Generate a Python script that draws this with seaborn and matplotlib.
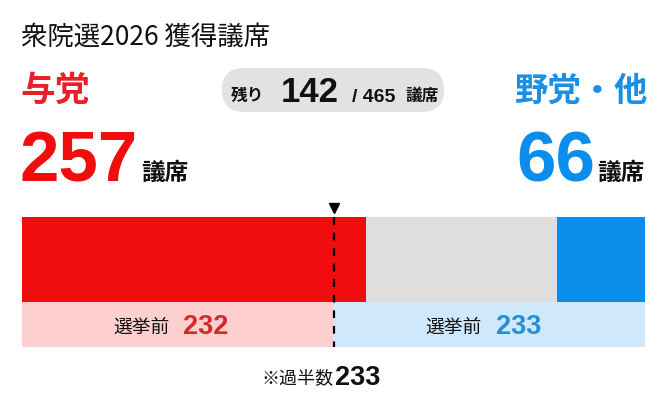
import numpy as np
import matplotlib
matplotlib.use("Agg")
import matplotlib.pyplot as plt
from matplotlib import font_manager as fm
from matplotlib.patches import FancyBboxPatch
import seaborn as sns

# ---- data ----
title = "衆院選2026 獲得議席"
parties = ["与党", "残り", "野党・他"]
seats = [257, 142, 66]
total_seats = 465
prev_label = "選挙前"
prev_seats = [232, 233]
majority = 233
unit = "議席"

sns.set_theme(style="white")

def has(f):
    try:
        fm.findfont(fm.FontProperties(family=f), fallback_to_default=False)
        return True
    except Exception:
        return False

NUM = "Liberation Sans Narrow" if has("Liberation Sans Narrow") else "Liberation Sans"
CJK = "Noto Sans CJK JP"
plt.rcParams["font.family"] = [CJK, "DejaVu Sans"]

RED = "#f10d0d"
GRAY = "#dedede"
BLUE = "#0a8deb"
LRED = "#fdcfcf"
LBLUE = "#cfe8fb"
TRED = "#e8202a"
TBLUE = "#1a8fe3"

W, H = 665, 405
fig = plt.figure(figsize=(W / 100, H / 100), dpi=100)
fig.patch.set_facecolor("white")

# bar axes: x in seats, y in pixels
x0, x1 = 22, 645
axb = fig.add_axes([x0 / W, 0, (x1 - x0) / W, 1])
axb.set_xlim(0, total_seats)
axb.set_ylim(H, 0)
axb.axis("off")

lefts = np.concatenate([[0], np.cumsum(seats)[:-1]])
axb.barh(259.5, seats, left=lefts, height=85, color=[RED, GRAY, BLUE], linewidth=0)
prev_lefts = np.concatenate([[0], np.cumsum(prev_seats)[:-1]])
axb.barh(324.5, prev_seats, left=prev_lefts, height=45, color=[LRED, LBLUE], linewidth=0)

axb.plot([majority, majority], [217, 347], color="black", lw=1.6, dashes=(3.5, 3.5))
axb.plot([majority], [208], marker="v", color="black", markersize=6.5)

# pixel overlay
ax = fig.add_axes([0, 0, 1, 1], zorder=3)
ax.set_xlim(0, W)
ax.set_ylim(H, 0)
ax.axis("off")
ax.patch.set_alpha(0)

ax.text(21, 45, title, fontsize=19, color="#111111", va="baseline", ha="left")

# ruling
ax.text(20, 101, parties[0], fontsize=25, fontweight="bold", color=TRED, va="baseline")
ax.text(19, 182, str(seats[0]), fontsize=51, fontweight="bold", family=NUM, color=RED, va="baseline")
ax.text(141, 180, unit, fontsize=17, fontweight="bold", color="#111111", va="baseline")

# opposition
ax.text(647, 101, parties[2], fontsize=24, fontweight="bold", color=TBLUE, va="baseline", ha="right")
ax.text(595, 182, str(seats[2]), fontsize=51, fontweight="bold", family=NUM, color=BLUE, va="baseline", ha="right")
ax.text(645, 180, unit, fontsize=17, fontweight="bold", color="#111111", va="baseline", ha="right")

# pill
pill = FancyBboxPatch((244, 90), 178, 0, boxstyle="round,pad=22,rounding_size=22",
                      facecolor="#e2e2e2", edgecolor="none")
ax.add_patch(pill)
ax.text(231, 101, parties[1], fontsize=12, fontweight="bold", color="#111111", va="baseline")
ax.text(281, 102, str(seats[1]), fontsize=25, fontweight="bold", family=NUM, color="#111111", va="baseline")
ax.text(352, 102, f"/ {total_seats}", fontsize=14, fontweight="bold", family=NUM, color="#111111", va="baseline")
ax.text(405, 101, unit, fontsize=12, fontweight="bold", color="#111111", va="baseline")

# previous seats
ax.text(113, 333, prev_label, fontsize=13.5, color="#111111", va="baseline")
ax.text(183, 334, str(prev_seats[0]), fontsize=19.5, fontweight="bold", family=NUM, color="#d42a2a", va="baseline")
ax.text(425, 333, prev_label, fontsize=13.5, color="#111111", va="baseline")
ax.text(496, 334, str(prev_seats[1]), fontsize=19.5, fontweight="bold", family=NUM, color="#2a8ed6", va="baseline")

# majority note
ax.text(262, 383, "※過半数", fontsize=13, color="#111111", va="baseline")
ax.text(335, 385, str(majority), fontsize=19.5, fontweight="bold", family=NUM, color="#111111", va="baseline")

fig.savefig("out.png", dpi=100, facecolor="white")
